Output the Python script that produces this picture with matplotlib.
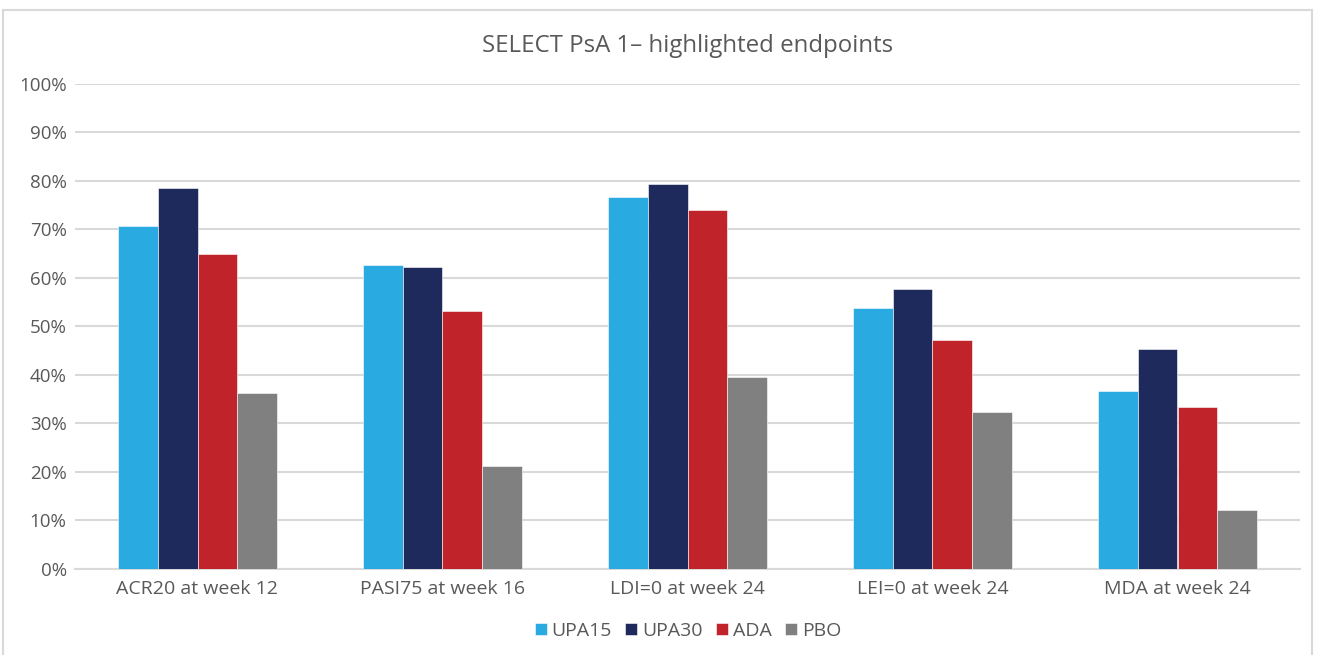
import matplotlib
matplotlib.use("Agg")
import matplotlib.pyplot as plt
from matplotlib.patches import Rectangle
import numpy as np

categories = ["ACR20 at week 12", "PASI75 at week 16", "LDI=0 at week 24", "LEI=0 at week 24", "MDA at week 24"]
series_names = ["UPA15", "UPA30", "ADA", "PBO"]
upa15 = [70.7, 62.7, 76.6, 53.8, 36.7]
upa30 = [78.4, 62.3, 79.4, 57.6, 45.3]
ada = [64.9, 53.1, 73.9, 47.1, 33.3]
pbo = [36.2, 21.2, 39.6, 32.3, 12.2]
yticks = [0, 10, 20, 30, 40, 50, 60, 70, 80, 90, 100]

colors = ["#29ABE2", "#1F2A5C", "#C1232A", "#808080"]
plt.rcParams['font.family'] = ['Open Sans', 'DejaVu Sans']

W, H = 1320, 655
fig = plt.figure(figsize=(W / 100, H / 100), dpi=100)
fig.patch.set_facecolor("white")

# outer frame
fig.add_artist(Rectangle((3 / W, -0.01), (1312 - 3) / W, (H - 10) / H + 0.01,
                         transform=fig.transFigure, fill=False, edgecolor="#d9d9d9", linewidth=1.5))

ax = fig.add_axes([75 / W, (H - 568.7) / H, (1300 - 75) / W, (568.7 - 83.7) / H])
x = np.arange(len(categories))
bw = 0.163
data = [upa15, upa30, ada, pbo]
for i, (vals, c, name) in enumerate(zip(data, colors, series_names)):
    ax.bar(x + (i - 1.5) * bw, vals, width=bw, color=c, label=name,
           edgecolor="white", linewidth=0.4, zorder=3)

ax.set_xlim(-0.5, len(categories) - 0.5)
ax.set_ylim(0, 100)
ax.set_yticks(yticks)
ax.set_yticklabels([f"{v}%" for v in yticks], color="#595959", fontsize=13.5)
ax.set_xticks(x)
ax.set_xticklabels(categories, color="#595959", fontsize=14)
ax.tick_params(axis="both", length=0)
ax.tick_params(axis="x", pad=8)
ax.tick_params(axis="y", pad=6)
ax.grid(axis="y", color="#d9d9d9", linewidth=1.5, zorder=0)
for s in ["top", "right", "left"]:
    ax.spines[s].set_visible(False)
ax.spines["bottom"].set_color("#d9d9d9")
ax.spines["bottom"].set_linewidth(1.5)
ax.set_facecolor("white")

fig.text(688 / W, 1 - 46 / H, "SELECT PsA 1\u2013 highlighted endpoints", ha="center", va="center",
         fontsize=17.3, color="#595959")

leg = fig.legend(loc="center", bbox_to_anchor=(688 / W, 1 - 631 / H), ncol=4, frameon=False,
                 fontsize=14, handlelength=0.6, handleheight=0.6, handletextpad=0.25,
                 columnspacing=0.7)
for t in leg.get_texts():
    t.set_color("#595959")

fig.savefig("out.png", dpi=100, facecolor="white")
